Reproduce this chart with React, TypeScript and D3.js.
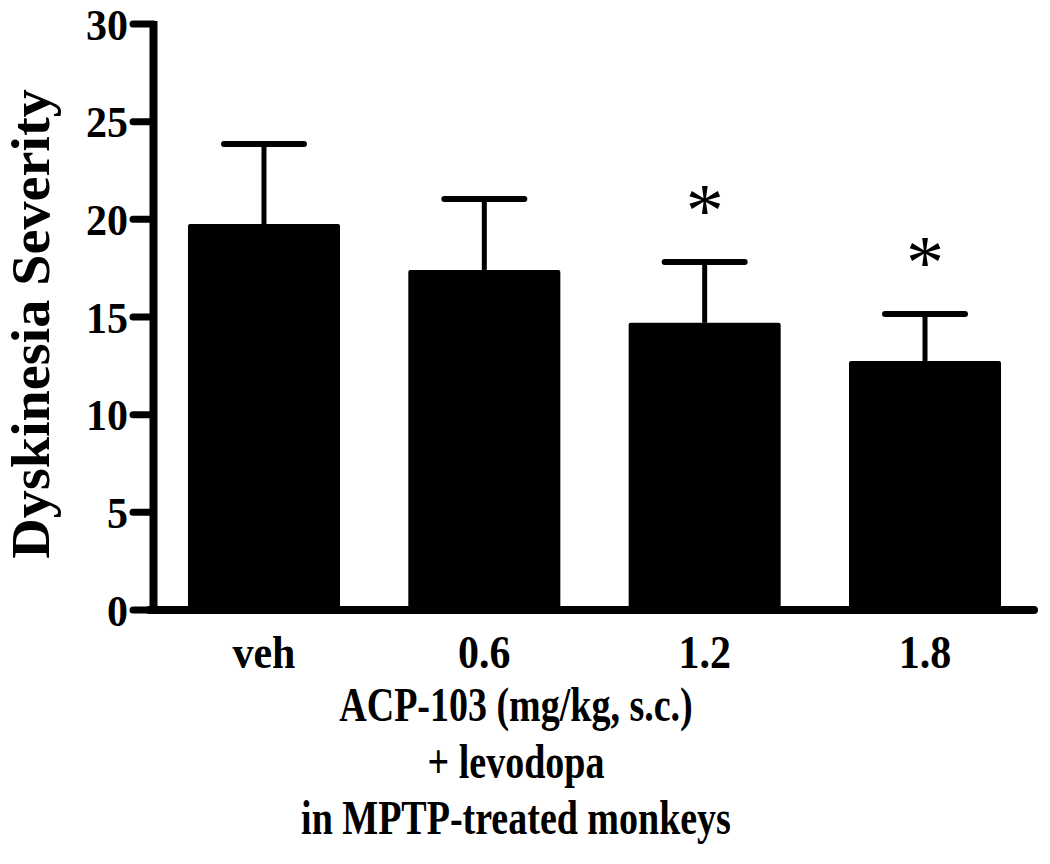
import React from "react";
import * as d3 from "d3";

const categories = ["veh", "0.6", "1.2", "1.8"];
const means = [19.76, 17.41, 14.7, 12.75];
const errors = [4.1, 3.63, 3.12, 2.4];
const significant = [false, false, true, true];
const yTicks = [0, 5, 10, 15, 20, 25, 30];
const xTitleLines = ["ACP-103 (mg/kg, s.c.)", "+ levodopa", "in MPTP-treated monkeys"];
const yTitle = "Dyskinesia Severity";

const FONT = "'Liberation Serif', 'Times New Roman', serif";

export default function App() {
  const W = 1050;
  const H = 864;
  const axisX = 153.5;
  const y = d3.scaleLinear().domain([0, 30]).range([610, 24]);
  const x = d3
    .scaleBand<string>()
    .domain(categories)
    .range([158, 1031])
    .paddingInner(0.31)
    .paddingOuter(0.136);
  const bw = x.bandwidth();
  const capW = 80;
  const starSize = 76;

  return (
    <svg
      width={W}
      height={H}
      style={{ position: "absolute", left: 0, top: 0, background: "#fff" }}
      fontFamily={FONT}
      fontWeight="bold"
    >
      <rect x={0} y={0} width={W} height={H} fill="#fff" />
      {/* bars */}
      {categories.map((c, i) => {
        const x0 = x(c)!;
        const cx = x0 + bw / 2;
        const top = y(means[i]);
        const capY = y(means[i] + errors[i]);
        return (
          <g key={c}>
            <line x1={cx} x2={cx} y1={top} y2={capY} stroke="#000" strokeWidth={5} />
            <line
              x1={cx - capW / 2}
              x2={cx + capW / 2}
              y1={capY}
              y2={capY}
              stroke="#000"
              strokeWidth={6}
              strokeLinecap="round"
            />
            <rect x={x0} y={top} width={bw} height={y(0) - top} fill="#000" rx={2} />
            {significant[i] && (
              <text
                x={cx}
                y={capY - 62 + 0.47 * starSize}
                textAnchor="middle"
                fontSize={starSize}
                fontWeight="normal"
              >
                *
              </text>
            )}
            <text
              transform={`translate(${cx}, 668) scale(1, 1.12)`}
              textAnchor="middle"
              fontSize={42}
              fill="#000"
            >
              {c}
            </text>
          </g>
        );
      })}
      {/* y axis */}
      <line x1={axisX} x2={axisX} y1={21} y2={614} stroke="#000" strokeWidth={8} />
      {yTicks.map((t) => (
        <g key={t}>
          <line x1={133} x2={axisX} y1={y(t)} y2={y(t)} stroke="#000" strokeWidth={7} strokeLinecap="round" />
          <text
            transform={`translate(128, ${y(t)}) scale(1, 1.06)`}
            dy="0.35em"
            textAnchor="end"
            fontSize={42}
            fill="#000"
          >
            {t}
          </text>
        </g>
      ))}
      {/* x axis */}
      <line x1={axisX - 4} x2={1034} y1={610} y2={610} stroke="#000" strokeWidth={8} strokeLinecap="round" />
      {/* titles */}
      {xTitleLines.map((l, i) => (
        <text
          key={l}
          transform={`translate(516, ${721 + i * 56.5}) scale(1, 1.25)`}
          textAnchor="middle"
          fontSize={38}
          fill="#000"
        >
          {l}
        </text>
      ))}
      <text
        transform={`translate(49, 324) rotate(-90) scale(1.04, 1)`}
        textAnchor="middle"
        fontSize={54}
        fill="#000"
      >
        {yTitle}
      </text>
    </svg>
  );
}
